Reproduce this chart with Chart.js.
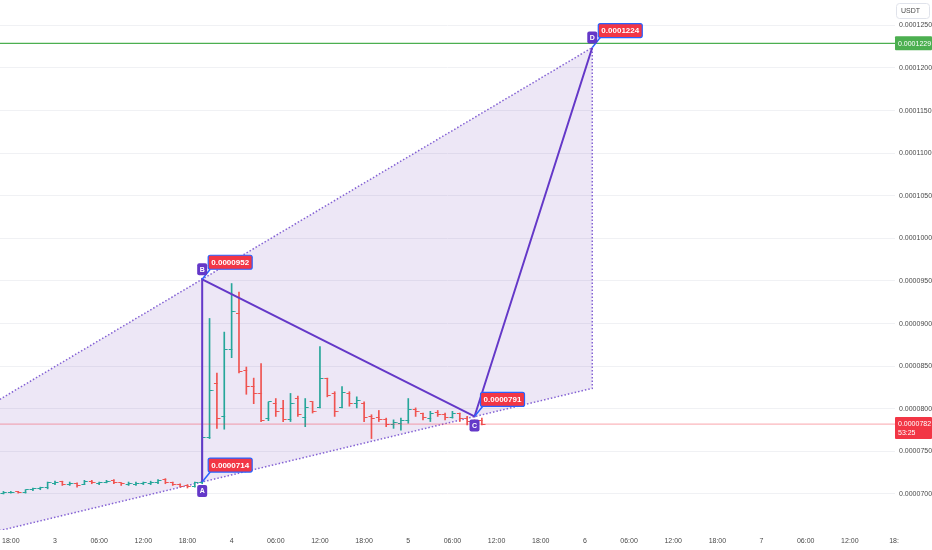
<!DOCTYPE html>
<html lang="en">
<head>
<meta charset="UTF-8">
<title>ABCD pattern</title>
<script src="https://cdn.jsdelivr.net/npm/chart.js"></script>
<style>
    body { margin: 0; background: #ffffff; }
    .chart-container { position: relative; width: 932px; height: 550px; }
</style>
</head>
<body>
<div class="chart-container"><canvas id="abcdChart"></canvas></div>
<script>
// Prices are kept in units of 1e-7 USDT (700 = 0.0000700)
const PRICE_UNIT = 1e-7;

// Hourly bars, hours counted from day 3 00:00
const firstHour = -7;
const opens  = [701, 702, 703, 702, 705, 706, 707, 712, 715, 711, 712, 711, 715, 712, 713, 716, 713, 711, 711, 712, 712, 713, 717, 713, 711, 710, 709,
                713, 766, 830, 791, 870, 912, 845, 826, 818, 788, 806, 800, 787, 812, 790, 808, 801, 836, 818, 802, 818, 806, 806, 791,
                790, 787, 781, 783, 786, 799, 795, 789, 796, 793, 790, 795, 789, 785, 786];
const highs  = [703, 703, 703, 705, 707, 708, 714, 715, 715, 714, 713, 716, 716, 714, 716, 717, 713, 714, 714, 714, 715, 717, 718, 714, 712, 711, 714,
                775, 906, 842, 890, 947, 937, 849, 836, 853, 808, 812, 810, 818, 815, 812, 808, 873, 836, 820, 826, 820, 814, 808, 793,
                798, 789, 787, 789, 812, 801, 795, 797, 798, 795, 797, 795, 791, 787, 789];
const lows   = [700, 701, 701, 701, 704, 705, 706, 711, 710, 710, 708, 711, 712, 711, 713, 712, 710, 710, 710, 711, 711, 712, 712, 710, 708, 707, 708,
                712, 765, 777, 776, 860, 842, 817, 806, 785, 786, 791, 785, 785, 791, 779, 795, 801, 814, 791, 801, 803, 801, 785, 765,
                785, 779, 777, 775, 783, 791, 787, 785, 791, 787, 789, 785, 781, 779, 781];
const closes = [702, 702, 702, 705, 706, 707, 713, 713, 711, 712, 710, 715, 713, 713, 715, 713, 712, 712, 712, 713, 714, 716, 713, 711, 709, 709, 713,
                766, 822, 789, 870, 914, 844, 826, 818, 786, 808, 797, 787, 806, 793, 802, 797, 836, 815, 797, 819, 806, 810, 790, 789,
                787, 781, 784, 786, 799, 797, 790, 795, 793, 790, 795, 789, 785, 783, 782];

// ABCD drawing
const patternNames  = ['A', 'B', 'C', 'D'];
const patternHours  = [20, 20, 57, 73];
const patternPrices = [714, 952, 791, 1224];

// shaded channel outline (upper B-D line, right edge, lower A-C line)
const channelHours  = [-7.5, 73, 73, -7.5];
const channelPrices = [811, 1224, 824, 657];

const alertPrice = 1229;
const lastPrice = 782;
const countdown = '53:25';

// axes
const xMin = -7.47, xMax = 114.13;
const yMin = 657.7, yMax = 1279.8;
const xTickHours  = [-6, 0, 6, 12, 18, 24, 30, 36, 42, 48, 54, 60, 66, 72, 78, 84, 90, 96, 102, 108, 114];
const xTickLabels = ['18:00', '3', '06:00', '12:00', '18:00', '4', '06:00', '12:00', '18:00', '5', '06:00',
                     '12:00', '18:00', '6', '06:00', '12:00', '18:00', '7', '06:00', '12:00', '18:'];
const yTickValues = [700, 750, 800, 850, 900, 950, 1000, 1050, 1100, 1150, 1200, 1250];

const UP = '#26a69a';
const DOWN = '#ef5350';
const PURPLE = '#6438c8';
const FONT = "'Liberation Sans', Arial, sans-serif";

const fmt = v => (v * PRICE_UNIT).toFixed(7);
const isUp = i => closes[i] >= opens[i];

// little canvases used as point styles for the open (left) and close (right) ticks
function makeTick(color, side) {
    const c = document.createElement('canvas');
    c.width = 8;
    c.height = 1;
    const g = c.getContext('2d');
    g.fillStyle = color;
    if (side === 'left') g.fillRect(1, 0, 3.5, 1);
    else g.fillRect(4, 0, 3.5, 1);
    return c;
}
const tickImgs = {
    upLeft: makeTick(UP, 'left'), upRight: makeTick(UP, 'right'),
    downLeft: makeTick(DOWN, 'left'), downRight: makeTick(DOWN, 'right')
};

function roundBox(ctx, x, y, w, h, r, fill, stroke) {
    ctx.beginPath();
    ctx.roundRect(x, y, w, h, r);
    ctx.fillStyle = fill;
    ctx.fill();
    if (stroke) {
        ctx.lineWidth = 1.2;
        ctx.strokeStyle = stroke;
        ctx.stroke();
    }
}

// scales ask for no extra room, the plot runs edge to edge
const ZERO_PAD = { left: 0, top: 0, right: 0, bottom: 0 };
function noPad(s) {
    s.paddingLeft = s.paddingRight = s.paddingTop = s.paddingBottom = 0;
    s.getPadding = () => ZERO_PAD;
}

const overlayPlugin = {
    id: 'overlay',
    afterDraw(chart) {
        const { ctx, scales: { x, y }, chartArea } = chart;
        ctx.save();
        ctx.textAlign = 'center';
        ctx.textBaseline = 'middle';

        patternNames.forEach((name, i) => {
            const px = x.getPixelForValue(patternHours[i]);
            const py = y.getPixelForValue(patternPrices[i]);
            const below = name === 'A' || name === 'C';

            // price tag with connector
            const bx = px + 6, by = py - 24;
            ctx.beginPath();
            ctx.moveTo(px, py);
            ctx.lineTo(bx + 2, by + 14);
            ctx.lineWidth = 1.5;
            ctx.strokeStyle = '#2962ff';
            ctx.stroke();
            roundBox(ctx, bx, by, 44, 14, 2, '#f23645', '#2962ff');
            ctx.fillStyle = '#ffffff';
            ctx.font = 'bold 8px ' + FONT;
            ctx.fillText(fmt(patternPrices[i]), bx + 22, by + 7.5);

            // letter tag
            const ly = below ? py + 9 : py - 10;
            roundBox(ctx, px - 5, ly - 6, 10, 12, 2, PURPLE);
            ctx.fillStyle = '#ffffff';
            ctx.font = 'bold 7px ' + FONT;
            ctx.fillText(name, px, ly + 0.5);
        });

        // price scale badges
        const right = chartArea.right;
        ctx.textAlign = 'left';
        ctx.font = '7px ' + FONT;
        const ga = y.getPixelForValue(alertPrice);
        roundBox(ctx, right, ga - 7, 37, 14, 1, '#4caf50');
        ctx.fillStyle = '#ffffff';
        ctx.fillText(fmt(alertPrice), right + 3, ga + 0.5);

        const lp = y.getPixelForValue(lastPrice);
        roundBox(ctx, right, lp - 7, 37, 22, 1, '#f23645');
        ctx.fillStyle = '#ffffff';
        ctx.fillText(fmt(lastPrice), right + 3, lp);
        ctx.fillText(countdown, right + 3, lp + 9);

        // currency box
        ctx.beginPath();
        ctx.roundRect(right + 1.5, 3.5, 33, 15, 3);
        ctx.fillStyle = '#ffffff';
        ctx.fill();
        ctx.lineWidth = 1;
        ctx.strokeStyle = '#e0e3eb';
        ctx.stroke();
        ctx.fillStyle = '#4a4a4a';
        ctx.fillText('USDT', right + 6, 11.5);
        ctx.restore();
    }
};

const ctx = document.getElementById('abcdChart').getContext('2d');
new Chart(ctx, {
    type: 'bar',
    data: {
        datasets: [
            {
                type: 'line',
                label: 'pattern',
                data: patternHours.map((h, i) => ({ x: h, y: patternPrices[i] })),
                borderColor: PURPLE,
                borderWidth: 2,
                pointRadius: 0,
                order: 1
            },
            {
                type: 'line',
                label: 'alert',
                data: [{ x: xMin, y: alertPrice }, { x: xMax, y: alertPrice }],
                borderColor: '#4caf50',
                borderWidth: 1.2,
                pointRadius: 0,
                order: 2
            },
            {
                type: 'line',
                label: 'last',
                data: [{ x: xMin, y: lastPrice }, { x: xMax, y: lastPrice }],
                borderColor: 'rgba(242, 54, 69, 0.45)',
                borderWidth: 1,
                pointRadius: 0,
                order: 3
            },
            {
                type: 'line',
                label: 'open',
                showLine: false,
                data: opens.map((o, i) => ({ x: firstHour + i, y: o })),
                pointStyle: c => isUp(c.dataIndex) ? tickImgs.upLeft : tickImgs.downLeft,
                pointRadius: 3,
                order: 4
            },
            {
                type: 'line',
                label: 'close',
                showLine: false,
                data: closes.map((v, i) => ({ x: firstHour + i, y: v })),
                pointStyle: c => isUp(c.dataIndex) ? tickImgs.upRight : tickImgs.downRight,
                pointRadius: 3,
                order: 4
            },
            {
                type: 'bar',
                label: 'range',
                data: lows.map((l, i) => ({ x: firstHour + i, y: [l, highs[i]] })),
                backgroundColor: c => isUp(c.dataIndex) ? UP : DOWN,
                barThickness: 1,
                grouped: false,
                order: 5
            },
            {
                type: 'line',
                label: 'channel',
                data: channelHours.map((h, i) => ({ x: h, y: channelPrices[i] })),
                borderColor: '#8462d4',
                borderWidth: 1.5,
                borderDash: [1.5, 2],
                backgroundColor: 'rgba(103, 58, 183, 0.12)',
                fill: 'shape',
                pointRadius: 0,
                order: 9
            }
        ]
    },
    options: {
        responsive: true,
        maintainAspectRatio: false,
        animation: false,
        events: [],
        layout: { padding: 0, autoPadding: false },
        plugins: {
            legend: { display: false },
            tooltip: { enabled: false }
        },
        scales: {
            x: {
                type: 'linear',
                min: xMin,
                max: xMax,
                offset: false,
                grid: { display: false, drawTicks: true, tickLength: 7 },
                border: { display: false },
                afterBuildTicks: s => { s.ticks = xTickHours.map(v => ({ value: v })); },
                afterFit: s => { s.height = 20; noPad(s); },
                ticks: {
                    autoSkip: false,
                    maxRotation: 0,
                    padding: 0,
                    color: '#4a4a4a',
                    font: { family: FONT, size: 7 },
                    callback: (v, i) => xTickLabels[i]
                }
            },
            y: {
                type: 'linear',
                position: 'right',
                min: yMin,
                max: yMax,
                grid: { color: '#f0f1f4', drawTicks: false },
                border: { display: false },
                afterBuildTicks: s => { s.ticks = yTickValues.map(v => ({ value: v })); },
                afterFit: s => { s.width = 37; noPad(s); },
                ticks: {
                    padding: 4,
                    color: '#4a4a4a',
                    font: { family: FONT, size: 7, lineHeight: 0.1 },
                    callback: v => fmt(v)
                }
            }
        }
    },
    plugins: [overlayPlugin]
});
</script>
</body>
</html>
